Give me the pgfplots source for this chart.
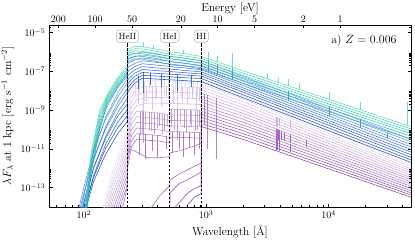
\documentclass[border=0pt]{standalone}
\usepackage{pgfplots}
\pgfplotsset{compat=1.18}
\usepackage{pgfplotstable}

\definecolor{gc1}{HTML}{40DCA0}\definecolor{gc2}{HTML}{35D0A8}\definecolor{gc3}{HTML}{2CC4AE}
\definecolor{gc4}{HTML}{26B8B2}\definecolor{gc5}{HTML}{22ACB6}\definecolor{gc6}{HTML}{229FBA}
\definecolor{bc1}{HTML}{5A9CEA}\definecolor{bc2}{HTML}{4E90E8}\definecolor{bc3}{HTML}{4484E5}
\definecolor{bc4}{HTML}{3A78E2}\definecolor{bc5}{HTML}{306CDE}\definecolor{bc6}{HTML}{2760D9}
\definecolor{bc7}{HTML}{1E56D4}\definecolor{bc8}{HTML}{174CCD}\definecolor{bc9}{HTML}{1244C6}
\definecolor{bc10}{HTML}{0E3DBD}
\definecolor{qc1}{HTML}{E6D8F2}\definecolor{qc2}{HTML}{DFCDED}\definecolor{qc3}{HTML}{D8C1E7}
\definecolor{qc4}{HTML}{D0B6E2}\definecolor{qc5}{HTML}{C9ABDC}\definecolor{qc6}{HTML}{C2A0D7}
\definecolor{qc7}{HTML}{BB94D1}\definecolor{qc8}{HTML}{B489CC}\definecolor{qc9}{HTML}{AC7EC6}
\definecolor{qc10}{HTML}{A573C1}\definecolor{qc11}{HTML}{9E67BB}\definecolor{qc12}{HTML}{975CB6}
\definecolor{qc13}{HTML}{9051B0}\definecolor{qc14}{HTML}{8846AB}\definecolor{qc15}{HTML}{813AA5}
\definecolor{qc16}{HTML}{7A2FA0}

\pgfplotstableread{
x g1 g2 g3 g4 g5 g6
95 3.2e-16 2e-16 1.3e-16 8e-17 5e-17 3.2e-17
105 4e-14 2.5e-14 1.6e-14 1e-14 6.3e-15 4e-15
115 6.3e-12 4e-12 2.5e-12 1.6e-12 1e-12 6.3e-13
135 1e-9 6.3e-10 4e-10 2.5e-10 1.6e-10 1e-10
155 6.3e-9 5e-9 4e-9 3.2e-9 2.5e-9 2e-9
190 5e-8 4e-8 3.2e-8 2.5e-8 2e-8 1.6e-8
226 1.8e-7 1.4e-7 1.1e-7 8.9e-8 7.1e-8 5.6e-8
229 1.4e-6 1.07e-6 8.1e-7 6.2e-7 4.5e-7 3.2e-7
260 2e-6 1.5e-6 1.15e-6 8.7e-7 6.3e-7 4.5e-7
300 1.9e-6 1.45e-6 1.1e-6 8.3e-7 6e-7 4.3e-7
400 1.4e-6 1.07e-6 8.1e-7 6.2e-7 4.5e-7 3.2e-7
500 1.05e-6 7.9e-7 6e-7 4.6e-7 3.3e-7 2.3e-7
700 7.9e-7 6e-7 4.6e-7 3.5e-7 2.5e-7 1.8e-7
912 6e-7 4.6e-7 3.5e-7 2.6e-7 1.9e-7 1.35e-7
2000 1.07e-7 8.1e-8 6.2e-8 4.7e-8 3.4e-8 2.4e-8
10000 3.7e-9 2.8e-9 2.1e-9 1.6e-9 1.2e-9 8.3e-10
47000 1.4e-10 1.07e-10 8.1e-11 6.2e-11 4.5e-11 3.2e-11
}\gtab

\pgfplotstableread{
x b1 b2 b3 b4 b5 b6 b7 b8 b9 b10
80 1e-17 3.2e-17 2.5e-16 1e-17 1e-16 1e-17 3.2e-17 1e-17 1e-17 1e-17
90 3.2e-16 1.6e-15 6.3e-15 6.3e-16 3.2e-15 4e-16 1e-15 2e-16 3.2e-16 1e-16
100 3.2e-14 4e-14 1e-13 1.6e-14 5e-14 1e-14 1.6e-14 5e-15 6.3e-15 3.2e-15
120 1e-11 6.3e-12 7.9e-12 2.5e-12 3.2e-12 1e-12 1e-12 4e-13 3.2e-13 2e-13
150 1e-9 4e-10 3.2e-10 1.26e-10 1e-10 4e-11 3.2e-11 1.6e-11 1e-11 5e-12
190 1.6e-8 7.9e-9 5e-9 2.5e-9 1.6e-9 7.9e-10 5e-10 2.5e-10 1.26e-10 6.3e-11
226 7.9e-8 4e-8 2.5e-8 1.26e-8 7.9e-9 4e-9 2e-9 1e-9 5e-10 2.5e-10
229 6.9e-7 4.3e-7 2.6e-7 1.62e-7 1e-7 6.2e-8 3.8e-8 2.34e-8 1.45e-8 8.9e-9
260 8.5e-7 5.75e-7 3.9e-7 2.6e-7 1.78e-7 1.2e-7 8.1e-8 5.5e-8 3.7e-8 2.5e-8
300 1e-6 7.1e-7 5e-7 3.55e-7 2.5e-7 1.78e-7 1.26e-7 8.9e-8 6.3e-8 4.5e-8
400 7.6e-7 5.5e-7 4e-7 2.9e-7 2.1e-7 1.51e-7 1.1e-7 7.9e-8 5.75e-8 4e-8
600 5.25e-7 3.9e-7 2.9e-7 2.14e-7 1.62e-7 1.2e-7 9.1e-8 6.8e-8 4.9e-8 3.5e-8
912 3.55e-7 2.7e-7 2.04e-7 1.58e-7 1.23e-7 9.5e-8 7.4e-8 5.75e-8 4.3e-8 2.95e-8
2000 5.5e-8 4.2e-8 3.16e-8 2.4e-8 1.86e-8 1.41e-8 1.1e-8 8.5e-9 6.2e-9 4.4e-9
10000 1.23e-9 9.3e-10 6.8e-10 5.1e-10 3.9e-10 2.9e-10 2.2e-10 1.66e-10 1.2e-10 8.7e-11
47000 3.16e-11 2.34e-11 1.7e-11 1.26e-11 9.3e-12 6.8e-12 5e-12 3.7e-12 2.7e-12 2e-12
}\btab

\pgfplotstableread{
x q1 q2 q3 q4 q5 q6 q7 q8 q9 q10 q11
140 5e-15 2.6e-15 1.3e-15 6.8e-16 3.5e-16 1.8e-16 9.1e-17 4.7e-17 2.4e-17 1.2e-17 6.3e-18
170 5e-13 2.6e-13 1.3e-13 6.8e-14 3.5e-14 1.8e-14 9.1e-15 4.7e-15 2.4e-15 1.2e-15 6.3e-16
200 1e-11 5.1e-12 2.6e-12 1.35e-12 6.9e-13 3.5e-13 1.8e-13 9.3e-14 4.8e-14 2.45e-14 1.26e-14
226 1e-10 5.1e-11 2.6e-11 1.35e-11 6.9e-12 3.5e-12 1.8e-12 9.3e-13 4.8e-13 2.45e-13 1.26e-13
229 1e-9 5.1e-10 2.6e-10 1.35e-10 6.9e-11 3.5e-11 1.8e-11 9.3e-12 4.8e-12 2.45e-12 1.26e-12
245 1e-8 5.1e-9 2.6e-9 1.35e-9 6.9e-10 3.5e-10 1.8e-10 9.3e-11 4.8e-11 2.45e-11 1.26e-11
270 2.5e-8 1.29e-8 6.6e-9 3.4e-9 1.74e-9 8.9e-10 4.6e-10 2.34e-10 1.2e-10 6.2e-11 3.16e-11
330 3.3e-8 1.7e-8 8.7e-9 4.5e-9 2.3e-9 7.9e-10 4.1e-10 2.1e-10 1.07e-10 5.5e-11 2.8e-11
420 3.3e-8 1.7e-8 8.7e-9 4.5e-9 2.3e-9 7.1e-10 3.6e-10 1.86e-10 9.5e-11 4.9e-11 2.5e-11
503 3.2e-8 1.66e-8 8.5e-9 4.4e-9 2.24e-9 5.6e-10 2.9e-10 1.48e-10 7.6e-11 3.9e-11 2e-11
506 3.16e-8 1.62e-8 8.3e-9 4.3e-9 2.2e-9 1.12e-9 5.75e-10 2.95e-10 1.51e-10 7.8e-11 4e-11
600 3.1e-8 1.6e-8 8.2e-9 4.25e-9 2.18e-9 1.1e-9 5.7e-10 2.9e-10 1.5e-10 7.7e-11 3.95e-11
800 2.95e-8 1.51e-8 7.8e-9 4e-9 2.04e-9 1.05e-9 5.4e-10 2.75e-10 1.41e-10 7.2e-11 3.7e-11
910 2.8e-8 1.45e-8 7.4e-9 3.8e-9 1.95e-9 1e-9 5.1e-10 2.6e-10 1.35e-10 6.9e-11 3.5e-11
914 3.2e-8 2.24e-8 1.58e-8 1.1e-8 7.6e-9 5.4e-9 3.7e-9 2.6e-9 1.78e-9 1.26e-9 8.7e-10
2000 5.4e-9 3.8e-9 2.7e-9 1.9e-9 1.35e-9 9.5e-10 6.8e-10 4.8e-10 3.4e-10 2.4e-10 1.7e-10
10000 8.5e-11 6.3e-11 4.7e-11 3.5e-11 2.6e-11 1.9e-11 1.38e-11 1.02e-11 7.6e-12 5.6e-12 4.2e-12
47000 1.58e-12 1.23e-12 9.3e-13 7.2e-13 5.6e-13 4.3e-13 3.3e-13 2.6e-13 2e-13 1.51e-13 1.17e-13
}\qtab

\tikzset{ln/.style={line width=0.6pt, draw opacity=0.85, line join=round},
         sp/.style={line width=0.5pt, draw opacity=0.8}}

\begin{document}
\begin{tikzpicture}
\useasboundingbox (-49pt,-33pt) rectangle (366pt,207pt);
\begin{axis}[
  at={(0pt,0pt)}, anchor=south west, scale only axis,
  width=362pt, height=182pt,
  xmode=log, ymode=log,
  xmin=52, xmax=47000, ymin=1e-14, ymax=2.5e-5,
  xtick={100,1000,10000},
  minor xtick={60,70,80,90,200,300,400,500,600,700,800,900,2000,3000,4000,5000,6000,7000,8000,9000,20000,30000,40000},
  ytick={1e-13,1e-11,1e-9,1e-7,1e-5},
  minor ytick={2e-13,3e-13,4e-13,5e-13,6e-13,7e-13,8e-13,9e-13,2e-11,3e-11,4e-11,5e-11,6e-11,7e-11,8e-11,9e-11,2e-9,3e-9,4e-9,5e-9,6e-9,7e-9,8e-9,9e-9,2e-7,3e-7,4e-7,5e-7,6e-7,7e-7,8e-7,9e-7,2e-5},
  xtick pos=left, ytick pos=both,
  tick align=inside,
  major tick length=3.5pt, minor tick length=2pt,
  tick style={black, line width=0.5pt},
  axis line style={line width=0.6pt},
  tick label style={font=\fontsize{10}{12}\selectfont},
  label style={font=\fontsize{11.5}{13}\selectfont},
  xlabel={Wavelength [\AA]},
  ylabel={$\lambda F_\lambda$ at 1 kpc [erg s$^{-1}$ cm$^{-2}$]},
  unbounded coords=jump,
  every axis plot/.append style={no markers},
  clip mode=individual,
]
% --- purple / lavender spectra
\pgfplotsinvokeforeach{11,10,...,1}{\addplot[ln, draw=qc#1] table[x index=0, y index=#1]{\qtab};}
\addplot[ln, draw=qc12] coordinates {(200,3e-15) (226,1e-13) (229,1e-11) (260,7.9e-12) (330,3.5e-12) (420,3.5e-12) (503,4e-12) (506,6.3e-12) (600,7.9e-12) (800,1.41e-11) (910,2e-11) (914,6e-10) (2000,1.23e-10) (10000,3.1e-12) (47000,9.1e-14)};
\addplot[ln, draw=qc13] coordinates {(300,1e-16) (330,2.5e-15) (358,1e-14) (420,4e-14) (503,1.26e-13) (506,2.5e-13) (600,5e-13) (800,1.26e-12) (910,1.86e-12) (914,4.2e-10) (2000,8.7e-11) (10000,2.3e-12) (47000,6.9e-14)};
\addplot[ln, draw=qc14] coordinates {(503,1e-16) (506,5.4e-14) (600,1.58e-13) (800,4e-13) (910,6.3e-13) (914,2.9e-10) (2000,6.2e-11) (10000,1.7e-12) (47000,5.4e-14)};
\addplot[ln, draw=qc15] coordinates {(500,1e-16) (540,2.5e-15) (560,1e-14) (700,5e-14) (800,8.9e-14) (910,1.26e-13) (914,2e-10) (2000,4.4e-11) (10000,1.26e-12) (47000,4.2e-14)};
\addplot[ln, draw=qc16] coordinates {(600,1e-16) (700,1.26e-14) (800,3.2e-14) (910,5e-14) (914,1.41e-10) (2000,3.1e-11) (10000,9.3e-13) (47000,3.2e-14)};
% absorption features in the purple spectra
\addplot[sp, draw=qc2] coordinates {(262,2.3e-8) (262,5e-9) (262,nan) (285,2.8e-8) (285,6e-9) (285,nan) (310,3.1e-8) (310,3e-9) (310,nan) (345,3.3e-8) (345,8e-9) (345,nan) (380,3.3e-8) (380,5e-9) (380,nan) (450,3.3e-8) (450,7e-9) (450,nan) (490,3.2e-8) (490,4e-9) (490,nan) (560,3.1e-8) (560,8e-9) (560,nan) (620,3.1e-8) (620,5e-9) (620,nan) (680,3e-8) (680,7e-9) (680,nan) (730,3e-8) (730,4e-9) (730,nan) (790,2.95e-8) (790,8e-9) (790,nan) (850,2.9e-8) (850,5e-9) (850,nan) (900,2.8e-8) (900,6e-9)};
\addplot[sp, draw=qc4] coordinates {(280,1.7e-8) (280,2e-9) (280,nan) (304,1.7e-8) (304,4e-10) (304,nan) (322,1.7e-8) (322,3e-9) (322,nan) (360,1.7e-8) (360,1e-9) (360,nan) (390,1.7e-8) (390,4e-9) (390,nan) (430,1.7e-8) (430,1.5e-9) (430,nan) (470,1.66e-8) (470,5e-9) (470,nan) (537,1.6e-8) (537,2e-9) (537,nan) (584,1.6e-8) (584,5e-10) (584,nan) (640,1.6e-8) (640,3e-9) (640,nan) (700,1.55e-8) (700,2e-9) (700,nan) (770,1.5e-8) (770,4e-9) (770,nan) (835,1.5e-8) (835,1e-9) (835,nan) (880,1.45e-8) (880,3e-9)};
\addplot[sp, draw=qc7] coordinates {(300,1e-9) (300,6e-11) (300,nan) (320,8e-10) (320,1.5e-10) (320,nan) (355,7.8e-10) (355,8e-11) (355,nan) (395,7.4e-10) (395,1.2e-10) (395,nan) (440,6.8e-10) (440,6e-11) (440,nan) (480,6.2e-10) (480,1.5e-10) (480,nan) (545,1.1e-9) (545,9e-11) (545,nan) (610,1.1e-9) (610,2e-10) (610,nan) (690,1.08e-9) (690,7e-11) (690,nan) (760,1.06e-9) (760,1.6e-10) (760,nan) (840,1.03e-9) (840,1e-10)};
\addplot[sp, draw=qc9] coordinates {(290,8e-10) (290,5e-11) (290,nan) (304,8e-10) (304,2e-11) (304,nan) (340,7.9e-10) (340,1e-10) (340,nan) (375,7.5e-10) (375,6e-11) (375,nan) (410,7.1e-10) (410,1.5e-10) (410,nan) (455,6.5e-10) (455,8e-11) (455,nan) (520,1.1e-9) (520,1.5e-10) (520,nan) (584,1.1e-9) (584,3e-11) (584,nan) (660,1.08e-9) (660,1.2e-10) (660,nan) (740,1.06e-9) (740,2e-10) (740,nan) (810,1.05e-9) (810,8e-11) (810,nan) (870,1e-9) (870,1.5e-10)};
\addplot[sp, draw=qc12] coordinates {(285,6e-11) (285,5e-12) (285,nan) (315,5.7e-11) (315,3e-12) (315,nan) (365,5.3e-11) (365,8e-12) (365,nan) (400,5e-11) (400,4e-12) (400,nan) (470,4.5e-11) (470,1e-11) (470,nan) (530,7.8e-11) (530,6e-12) (530,nan) (600,7.7e-11) (600,1e-11) (600,nan) (650,7.6e-11) (650,4e-12) (650,nan) (720,7.4e-11) (720,1.2e-11) (720,nan) (800,7.2e-11) (800,5e-12) (800,nan) (880,7e-11) (880,1e-11)};
\addplot[sp, draw=qc11] coordinates {(972,6.8e-9) (972,2e-10) (972,nan) (1026,5.9e-9) (1026,5e-11) (1026,nan) (1216,4.1e-9) (1216,1e-11) (1216,nan) (1026,1.4e-9) (1026,1e-11) (1026,nan) (1216,9.8e-10) (1216,3e-12)};
\addplot[sp, draw=qc6] coordinates {(3700,4.2e-10) (3700,1.5e-10) (3700,nan) (3770,4.1e-10) (3770,1.6e-10) (3770,nan) (3835,4e-10) (3835,1.5e-10) (3835,nan) (3970,3.8e-10) (3970,1.6e-10) (3970,nan) (4861,2.7e-10) (4861,1.2e-10)};
\addplot[sp, draw=qc13] coordinates {(3700,1.1e-10) (3700,2.5e-11) (3700,nan) (3750,1.07e-10) (3750,3e-11) (3750,nan) (3800,1.02e-10) (3800,3e-11) (3800,nan) (3890,9.8e-11) (3890,3e-11) (3890,nan) (3970,9.3e-11) (3970,2.5e-11) (3970,nan) (4102,8.5e-11) (4102,3e-11) (4102,nan) (4340,7.4e-11) (4340,2.5e-11) (4340,nan) (4861,5.6e-11) (4861,2e-11) (4861,nan) (6563,2.75e-11) (6563,1.2e-11) (6563,nan) (3700,3e-11) (3700,8e-12) (3700,nan) (3800,2.8e-11) (3800,9e-12) (3800,nan) (3970,2.6e-11) (3970,8e-12) (3970,nan) (4861,1.8e-11) (4861,7e-12)};
% --- blue spectra
\pgfplotsinvokeforeach{10,9,...,1}{\addplot[ln, draw=bc#1] table[x index=0, y index=#1]{\btab};}
\addplot[sp, draw=bc4] coordinates {(1034,1.05e-7) (1034,4e-7) (1034,nan) (1240,7.6e-8) (1240,2.5e-7) (1240,nan) (1640,3.9e-8) (1640,1.5e-7) (1640,nan) (4686,3.2e-9) (4686,1e-8) (4686,nan) (10124,5e-10) (10124,1.6e-9) (10124,nan) (18000,1.26e-10) (18000,3.5e-10) (18000,nan) (30000,3.6e-11) (30000,7e-11)};
\addplot[sp, draw=bc8] coordinates {(280,6e-8) (280,1.2e-8) (280,nan) (304,8.9e-8) (304,8e-9) (304,nan) (350,8.5e-8) (350,2e-8) (350,nan) (430,7.6e-8) (430,1.5e-8) (430,nan) (584,6.8e-8) (584,1e-8) (584,nan) (760,6.2e-8) (760,1.6e-8)};
% --- green spectra
\pgfplotsinvokeforeach{6,5,...,1}{\addplot[ln, draw=gc#1] table[x index=0, y index=#1]{\gtab};}
\addplot[sp, draw=gc1] coordinates {(304,1.9e-6) (304,3.2e-6) (304,nan) (370,1.5e-6) (370,2.3e-6) (370,nan) (650,8.5e-7) (650,1.3e-6) (650,nan) (1034,4.1e-7) (1034,1.05e-6) (1034,nan) (1240,3.1e-7) (1240,6.3e-7) (1240,nan) (1640,1.66e-7) (1640,8.9e-7) (1640,nan) (3130,4.2e-8) (3130,8.7e-8) (3130,nan) (3850,2.75e-8) (3850,4.8e-8) (3850,nan) (4686,1.8e-8) (4686,4e-8) (4686,nan) (5800,1.17e-8) (5800,2.5e-8) (5800,nan) (10124,3.6e-9) (10124,8.9e-9) (10124,nan) (18000,1.07e-9) (18000,2.5e-9) (18000,nan) (44000,1.6e-10) (44000,2.5e-9)};
% --- ionisation edges
\addplot[black, line width=0.8pt, dash pattern=on 2.5pt off 1.5pt] coordinates {(227.8,1e-14) (227.8,3e-6)};
\addplot[black, line width=0.8pt, dash pattern=on 2.5pt off 1.5pt] coordinates {(504.3,1e-14) (504.3,3e-6)};
\addplot[black, line width=0.8pt, dash pattern=on 2.5pt off 1.5pt] coordinates {(911.8,1e-14) (911.8,3e-6)};
\tikzset{edgebox/.style={draw=gray!60, fill=white, rounded corners=3pt, line width=0.5pt, inner xsep=2pt, inner ysep=3pt, font=\fontsize{9}{10}\selectfont}}
\node[edgebox] at (axis cs:227.8,6.6e-6) {HeII};
\node[edgebox] at (axis cs:504.3,6.6e-6) {HeI};
\node[edgebox] at (axis cs:911.8,6.6e-6) {HI};
\node[anchor=east, font=\fontsize{11.5}{13}\selectfont] at (rel axis cs:0.97,0.915) {a) $Z = 0.006$};
\end{axis}
\begin{axis}[
  at={(0pt,0pt)}, anchor=south west, scale only axis,
  width=362pt, height=182pt,
  xmode=log, xmin=52, xmax=47000, ymin=0, ymax=1,
  axis x line*=top, hide y axis,
  xtick={61.992,123.984,247.968,619.92,1239.84,2479.68,6199.2,12398.4},
  xticklabels={200,100,50,20,10,5,2,1},
  tick align=inside, major tick length=3.5pt,
  tick style={black, line width=0.5pt},
  axis line style={line width=0.6pt},
  xticklabel style={font=\fontsize{10}{12}\selectfont, yshift=-1pt},
  xlabel style={font=\fontsize{11.5}{13}\selectfont, yshift=-6pt},
  xlabel={Energy [eV]},
]
\end{axis}
\end{tikzpicture}
\end{document}
